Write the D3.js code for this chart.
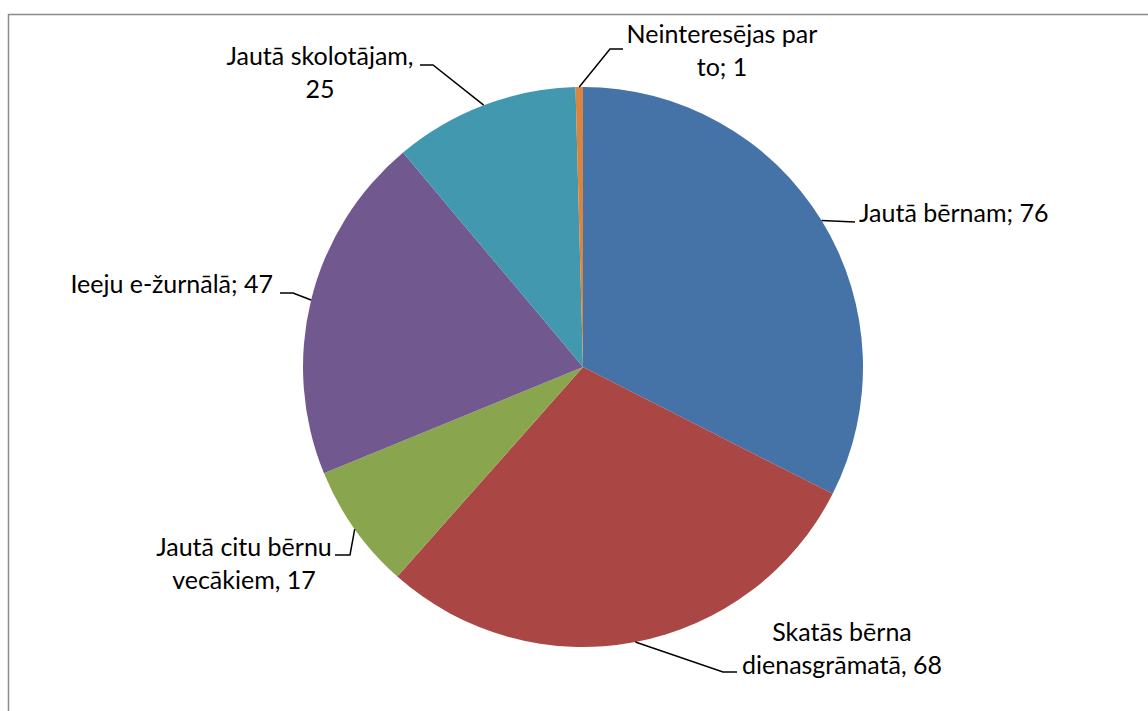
<!DOCTYPE html>
<html>
<head>
<meta charset="utf-8">
<script src="https://cdn.jsdelivr.net/npm/d3@7"></script>
<style>
body { margin: 0; background: #fff; }
text { font-family: Lato, "Noto Sans", sans-serif; font-size: 25px; fill: #000; }
</style>
</head>
<body>
<svg width="1148" height="711"></svg>
<script>
var categories = ["Jautā bērnam", "Skatās bērna dienasgrāmatā", "Jautā citu bērnu vecākiem",
                  "Ieeju e-žurnālā", "Jautā skolotājam", "Neinteresējas par to"];
var values = [76, 68, 17, 47, 25, 1];
// label text lines as shown on the chart
var labelLines = [
  ["Jautā bērnam; 76"],
  ["Skatās bērna", "dienasgrāmatā, 68"],
  ["Jautā citu bērnu", "vecākiem, 17"],
  ["Ieeju e-žurnālā; 47"],
  ["Jautā skolotājam,", "25"],
  ["Neinteresējas par", "to; 1"]
];
var colors = ["#4572A7", "#AA4643", "#89A54E", "#71588F", "#4198AF", "#DB843D"];

// label placement (layout): text anchor point, anchor, and leader elbow
var labelLayout = [
  {x: 859, y: 222, anchor: "start",  elbow: [855, 222], end: [855, 222]},
  {x: 842, y: 641, anchor: "middle", elbow: [723, 672], end: [737, 672]},
  {x: 244, y: 556, anchor: "middle", elbow: [350, 555], end: [335, 555]},
  {x: 273, y: 293, anchor: "end",    elbow: [293, 293], end: [280, 293]},
  {x: 320, y: 65,  anchor: "middle", elbow: [433, 65],  end: [420, 65]},
  {x: 722, y: 43,  anchor: "middle", elbow: [610, 49],  end: [623, 49]}
];

var svg = d3.select("svg");
var cx = 583, cy = 367, radius = 280;

// outer frame
svg.append("rect")
  .attr("x", 8.5).attr("y", 14.5)
  .attr("width", 1200).attr("height", 800)
  .attr("fill", "none")
  .attr("stroke", "#8a8a8a")
  .attr("stroke-width", 1.5);

var data = categories.map(function(c, i) { return {name: c, value: values[i], idx: i}; });

var pie = d3.pie().sort(null).value(function(d) { return d.value; });
var arc = d3.arc().innerRadius(0).outerRadius(radius);

var g = svg.append("g").attr("transform", "translate(" + cx + "," + cy + ")");
var arcs = pie(data);

g.selectAll(".slice")
  .data(arcs)
  .enter()
  .append("path")
  .attr("class", "slice")
  .attr("d", arc)
  .attr("fill", function(d) { return colors[d.data.idx]; });

// leader lines
svg.selectAll(".leader")
  .data(arcs)
  .enter()
  .append("polyline")
  .attr("class", "leader")
  .attr("fill", "none")
  .attr("stroke", "#000")
  .attr("stroke-width", 1.5)
  .attr("points", function(d) {
    var a = (d.startAngle + d.endAngle) / 2;
    var px = cx + radius * Math.sin(a), py = cy - radius * Math.cos(a);
    var L = labelLayout[d.data.idx];
    return [[px, py], L.elbow, L.end].map(function(p) { return p.join(","); }).join(" ");
  });

// labels
var lineH = 33;
data.forEach(function(d, i) {
  var L = labelLayout[i];
  var t = svg.append("text")
    .attr("x", L.x).attr("y", L.y)
    .attr("text-anchor", L.anchor);
  labelLines[i].forEach(function(line, j) {
    t.append("tspan")
      .attr("x", L.x)
      .attr("dy", j === 0 ? 0 : lineH)
      .text(line);
  });
});
</script>
</body>
</html>
